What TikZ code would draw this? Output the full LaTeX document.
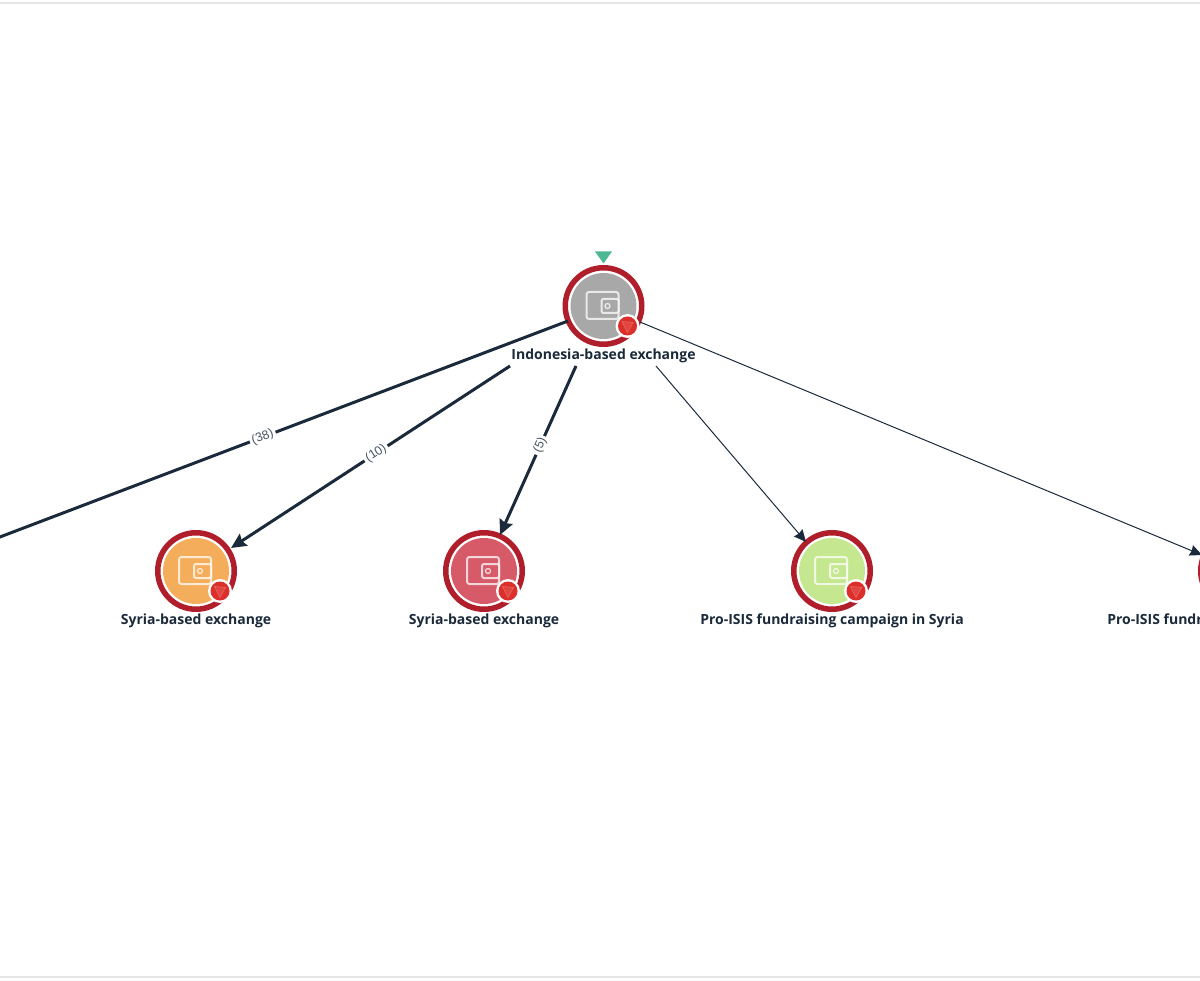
\documentclass[tikz,border=0pt]{standalone}
\usepackage{fontspec}
\setmainfont{Open Sans}
\newfontfamily\edgefont{Liberation Sans}
\usetikzlibrary{arrows.meta}
\definecolor{ink}{HTML}{1B2A3A}
\definecolor{ringred}{HTML}{B01E2C}
\definecolor{badgered}{HTML}{DC2F2B}
\definecolor{badgesoft}{HTML}{E4605A}
\definecolor{cgray}{HTML}{A8A8A8}
\definecolor{corange}{HTML}{F4AE5B}
\definecolor{crose}{HTML}{D65A68}
\definecolor{cgreen}{HTML}{C5E78F}
\definecolor{cmark}{HTML}{4DB892}
\definecolor{framegray}{HTML}{E6E6E6}
\tikzset{
  walletnode/.style={circle,draw=ringred,line width=5.5pt,fill=white,inner sep=0pt,minimum size=76.5pt},
  disc/.style={circle,fill=#1,inner sep=0pt,minimum size=66pt},
  walletline/.style={draw=white,line width=2pt,opacity=.75},
  nodelabel/.style={font=\fontsize{14}{16}\selectfont\bfseries,text=ink,inner sep=1pt},
  heavy/.style={draw=ink,line width=3pt,-{Stealth[length=15pt,width=14pt,inset=2pt]}},
  light/.style={draw=ink,line width=1pt,-{Stealth[length=12pt,width=11pt,inset=1pt]}},
  edgetag/.style={font=\edgefont\fontsize{12.5}{14}\selectfont,text=ink!80,fill=white,inner sep=2.5pt},
  framerule/.style={draw=framegray,line width=2.5pt}
}
\newcommand{\walletat}[5]{% name, x, y, colour, label
  \node[walletnode] (#1) at (#2,#3) {};
  \node[disc=#4] (#1disc) at (#2,#3) {};
  \begin{scope}[shift={(#2,#3)}]
    \draw[walletline,rounded corners=2.5pt] (15,-14) rectangle (-17,13);
    \draw[walletline,rounded corners=1.5pt,fill=#4] (15,-7) rectangle (-2,7);
    \draw[draw=white,line width=1.2pt,opacity=.8] (4,0) circle (2.5);
    \node[circle,fill=white,inner sep=0pt,minimum size=24pt] (#1halo) at (24,20) {};
    \node[circle,fill=badgered,inner sep=0pt,minimum size=19pt] (#1badge) at (24,20) {};
    \draw[draw=badgesoft,fill=badgered!55!badgesoft,line width=.8pt,line join=round]
      (18.5,15.5) -- (29.5,16.5) -- (24,26.5) -- cycle;
  \end{scope}
  \node[nodelabel] (#1label) at (#2,#3+50) {#5};
}
\begin{document}
\begin{tikzpicture}[x=1pt,y=-1pt]
  \useasboundingbox (0,0) rectangle (1200,981);
  \clip (0,0) rectangle (1200,981);
  \fill[white] (0,0) rectangle (1200,981);
  \coordinate (tl) at (0,3);
  \coordinate (tr) at (1200,3);
  \coordinate (bl) at (0,977);
  \coordinate (br) at (1200,977);
  \draw[framerule] (tl) -- (tr);
  \draw[framerule] (bl) -- (br);

  \walletat{indo}{603.5}{306}{cgray}{Indonesia-based exchange}
  \walletat{syriaA}{196}{571}{corange}{Syria-based exchange}
  \walletat{syriaB}{484}{571}{crose}{Syria-based exchange}
  \walletat{proA}{832}{571}{cgreen}{Pro-ISIS fundraising campaign in Syria}
  \walletat{proB}{1239}{571}{crose}{Pro-ISIS fundraising campaign in Syria}

  \fill[cmark] (595,251.5) -- (612,251.5) -- (603.5,263.5) -- cycle;

  \coordinate (a1) at (568,321);
  \coordinate (a2) at (510,366);
  \coordinate (a3) at (576,366);
  \coordinate (a4) at (656,366);
  \coordinate (a5) at (640,322);
  \coordinate (offleft) at (-8,540);
  \coordinate (b2) at (231,548);
  \coordinate (b3) at (500,535);
  \coordinate (b4) at (806,542);
  \coordinate (b5) at (1202,555);

  \draw[heavy,-] (a1) -- node[edgetag,pos=.53,sloped] (t38) {(38)} (offleft);
  \draw[heavy] (a2) -- node[edgetag,pos=.48,sloped] (t10) {(10)} (b2);
  \draw[heavy] (a3) -- node[edgetag,pos=.47,sloped] (t5) {(5)} (b3);
  \draw[light] (a4) -- (b4);
  \draw[light] (a5) -- (b5);
\end{tikzpicture}
\end{document}
